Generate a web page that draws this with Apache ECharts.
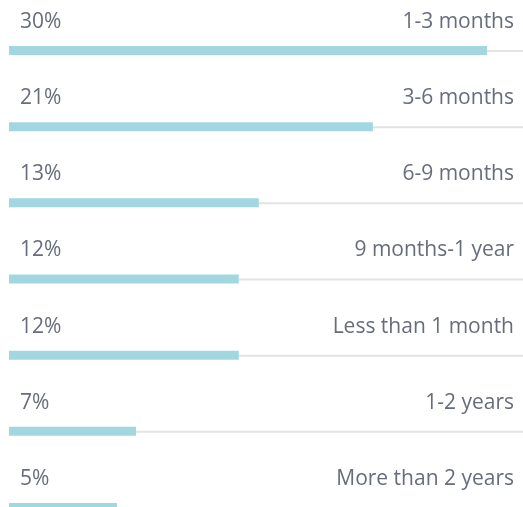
<!DOCTYPE html>
<html>
<head>
<meta charset="utf-8">
<script src="https://cdn.jsdelivr.net/npm/echarts@6/dist/echarts.min.js"></script>
<style>
  html, body { margin: 0; padding: 0; background: #fff; }
  #chart { width: 523px; height: 507px; }
</style>
</head>
<body>
<div id="chart"></div>
<script>
// categories, top to bottom
const categories = [
  '1-3 months',
  '3-6 months',
  '6-9 months',
  '9 months-1 year',
  'Less than 1 month',
  '1-2 years',
  'More than 2 years'
];
// share shown above each bar (%)
const shares = [30, 21, 13, 12, 12, 7, 5];
// bar length as drawn, on a 0-100 track
const barLengths = [93.0, 70.8, 48.6, 44.7, 44.7, 24.7, 21.0];
const trackMax = 100;

const chart = echarts.init(document.getElementById('chart'));

const textColor = '#676d7b';
const font = '"Open Sans", sans-serif';

chart.setOption({
  animation: false,
  // rows sit on the ticks, first at y=49, last just below the bottom edge
  grid: { left: 9, right: 0, top: 49, bottom: 1 },
  xAxis: { type: 'value', min: 0, max: trackMax, show: false },
  yAxis: { type: 'category', data: categories, inverse: true, boundaryGap: false, show: false },
  series: [
    {
      name: 'share',
      type: 'bar',
      data: barLengths,
      barWidth: 9,
      barGap: '-55.6%',
      z: 3,
      itemStyle: { color: '#a2d7e2' },
      label: {
        show: true,
        position: [11, -24],
        align: 'left',
        verticalAlign: 'middle',
        color: textColor,
        fontFamily: font,
        fontSize: 21,
        formatter: p => shares[p.dataIndex] + '%'
      }
    },
    {
      name: 'track',
      type: 'bar',
      data: categories.map(() => trackMax),
      barWidth: 2,
      barGap: '-55.6%',
      z: 2,
      itemStyle: { color: '#e2e4e4' },
      label: {
        show: true,
        position: ['100%', -28],
        offset: [-9, 0],
        align: 'right',
        verticalAlign: 'middle',
        color: textColor,
        fontFamily: font,
        fontSize: 21,
        formatter: p => categories[p.dataIndex]
      }
    }
  ]
});

window.addEventListener('resize', () => chart.resize());
</script>
</body>
</html>
